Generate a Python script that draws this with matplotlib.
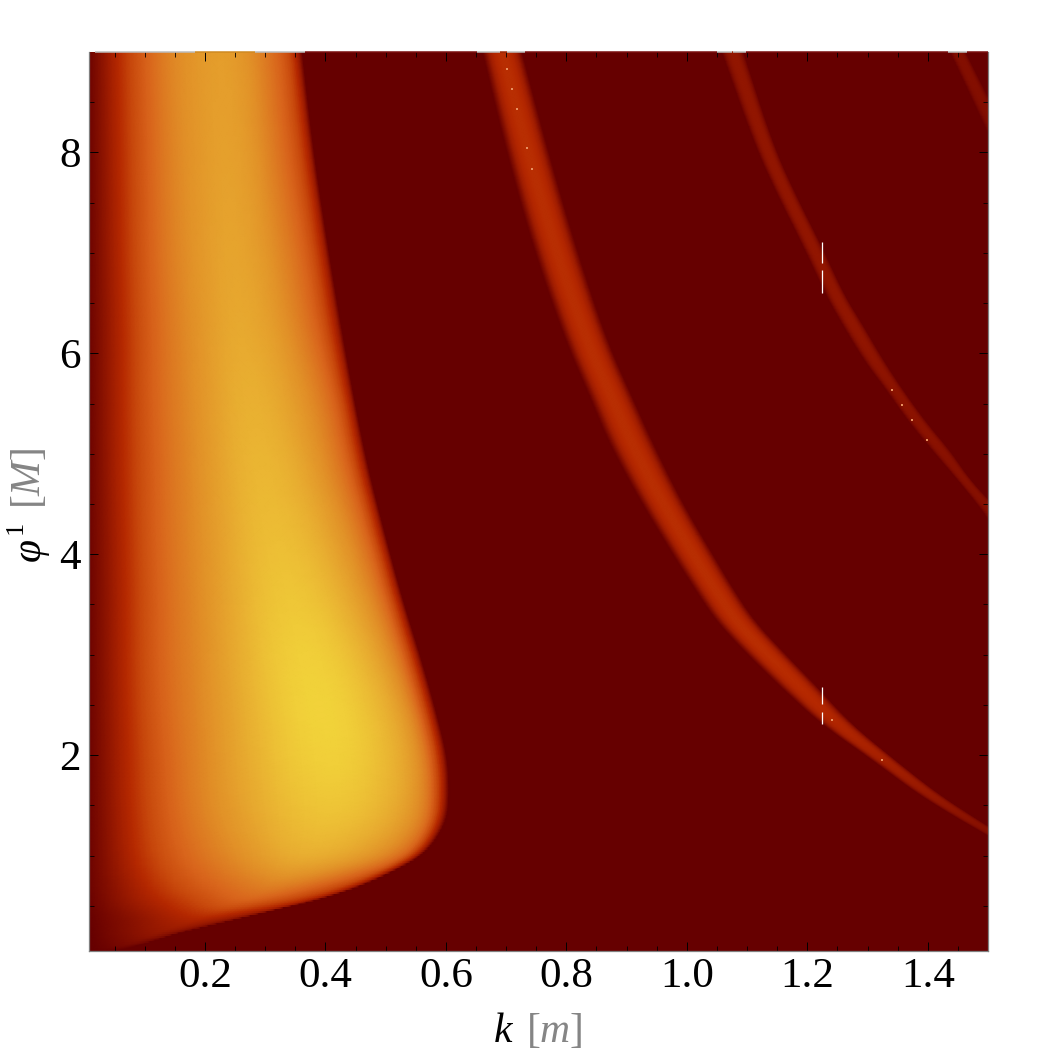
import numpy as np
import matplotlib
matplotlib.use('Agg')
import matplotlib.pyplot as plt
from matplotlib.colors import LinearSegmentedColormap

# axis ranges and ticks
k_range = [0.0075, 1.5]
phi_range = [0.05, 9.0]
k_ticks = [0.2, 0.4, 0.6, 0.8, 1.0, 1.2, 1.4]
k_tick_labels = ['0.2', '0.4', '0.6', '0.8', '1.0', '1.2', '1.4']
phi_ticks = [2, 4, 6, 8]

# colour scale
scale_values = [0.0, 0.12, 0.28, 0.38, 0.5, 0.68, 0.8, 1.0]
scale_colors = ['#660000', '#861000', '#b52800', '#c8480c', '#d9651c', '#e29228', '#e8ac30', '#f2d43a']

# main lobe: per row of phi, k positions and intensity across the lobe
lobe_phi = [0.05, 0.097, 0.23, 0.39, 0.54, 0.69, 0.93, 1.09, 1.36, 1.65, 1.98,
            2.38, 2.92, 3.57, 4.24, 4.9, 5.56, 6.23, 7.02, 8.0, 9.0]
lobe_k = [
    [0.0075, 0.015, 0.02, 0.025, 0.03, 0.04, 0.045, 0.05],
    [0.0075, 0.035, 0.05, 0.06, 0.07, 0.08, 0.084, 0.087],
    [0.0075, 0.05, 0.09, 0.115, 0.13, 0.148, 0.154, 0.158],
    [0.0075, 0.06, 0.12, 0.18, 0.21, 0.25, 0.265, 0.27],
    [0.0075, 0.07, 0.16, 0.24, 0.28, 0.35, 0.372, 0.379],
    [0.0075, 0.078, 0.165, 0.27, 0.33, 0.42, 0.452, 0.462],
    [0.0075, 0.08, 0.16, 0.26, 0.37, 0.50, 0.535, 0.545],
    [0.0075, 0.078, 0.155, 0.25, 0.385, 0.535, 0.568, 0.578],
    [0.0075, 0.075, 0.145, 0.225, 0.40, 0.555, 0.592, 0.604],
    [0.0075, 0.072, 0.14, 0.215, 0.40, 0.555, 0.596, 0.607],
    [0.0075, 0.071, 0.137, 0.213, 0.396, 0.55, 0.593, 0.604],
    [0.0075, 0.069, 0.13, 0.21, 0.39, 0.535, 0.578, 0.588],
    [0.0075, 0.067, 0.125, 0.205, 0.37, 0.51, 0.553, 0.563],
    [0.0075, 0.067, 0.125, 0.20, 0.345, 0.48, 0.52, 0.529],
    [0.0075, 0.065, 0.12, 0.195, 0.32, 0.45, 0.49, 0.499],
    [0.0075, 0.062, 0.12, 0.19, 0.30, 0.42, 0.461, 0.471],
    [0.0075, 0.062, 0.115, 0.185, 0.28, 0.40, 0.44, 0.449],
    [0.0075, 0.062, 0.115, 0.18, 0.27, 0.37, 0.418, 0.429],
    [0.0075, 0.059, 0.11, 0.17, 0.26, 0.355, 0.397, 0.407],
    [0.0075, 0.057, 0.108, 0.165, 0.255, 0.335, 0.372, 0.382],
    [0.0075, 0.054, 0.104, 0.158, 0.25, 0.325, 0.352, 0.363],
]
lobe_v = [
    [0, 0, 0, 0, 0, 0, 0, 0],
    [0, 0.03, 0.05, 0.06, 0.06, 0.04, 0.02, 0],
    [0, 0.08, 0.14, 0.17, 0.17, 0.12, 0.08, 0],
    [0.01, 0.10, 0.20, 0.27, 0.27, 0.20, 0.12, 0],
    [0.02, 0.18, 0.33, 0.48, 0.48, 0.33, 0.20, 0],
    [0.03, 0.22, 0.42, 0.58, 0.62, 0.42, 0.25, 0],
    [0.03, 0.27, 0.48, 0.66, 0.82, 0.60, 0.28, 0],
    [0.03, 0.28, 0.50, 0.68, 0.90, 0.66, 0.28, 0],
    [0.03, 0.28, 0.50, 0.68, 0.97, 0.72, 0.28, 0],
    [0.03, 0.28, 0.50, 0.68, 1.02, 0.76, 0.28, 0],
    [0.03, 0.28, 0.50, 0.68, 1.06, 0.78, 0.28, 0],
    [0.03, 0.28, 0.50, 0.68, 1.08, 0.78, 0.28, 0],
    [0.03, 0.28, 0.50, 0.68, 1.07, 0.74, 0.28, 0],
    [0.03, 0.28, 0.50, 0.68, 1.01, 0.68, 0.28, 0],
    [0.03, 0.28, 0.50, 0.68, 0.95, 0.65, 0.28, 0],
    [0.03, 0.28, 0.50, 0.68, 0.91, 0.62, 0.28, 0],
    [0.03, 0.28, 0.50, 0.68, 0.87, 0.61, 0.28, 0],
    [0.03, 0.28, 0.50, 0.68, 0.83, 0.59, 0.28, 0],
    [0.03, 0.28, 0.50, 0.68, 0.80, 0.56, 0.28, 0],
    [0.03, 0.28, 0.50, 0.68, 0.78, 0.52, 0.28, 0],
    [0.03, 0.28, 0.50, 0.68, 0.76, 0.50, 0.28, 0],
]

# thin bands: phi, left edge, right edge, peak intensity
band1_phi = [1.11, 1.26, 1.39, 1.63, 1.95, 2.32, 2.68, 3.05, 3.35, 3.64, 3.94, 4.54, 5.13, 5.53, 6.13, 7.07, 8.07, 9.0]
band1_left = [1.526, 1.483, 1.445, 1.38, 1.309, 1.221, 1.156, 1.093, 1.047, 1.015, 0.983, 0.922, 0.869, 0.842, 0.798, 0.744, 0.698, 0.661]
band1_right = [1.553, 1.513, 1.478, 1.417, 1.349, 1.274, 1.219, 1.159, 1.113, 1.081, 1.051, 0.992, 0.944, 0.914, 0.869, 0.817, 0.769, 0.728]
band1_peak = [0.10, 0.13, 0.15, 0.19, 0.24, 0.28, 0.30, 0.31, 0.31, 0.31, 0.31, 0.31, 0.31, 0.31, 0.31, 0.31, 0.31, 0.31]

band2_phi = [4.34, 4.44, 4.74, 5.03, 5.33, 5.63, 5.93, 6.33, 6.58, 7.07, 7.57, 8.07, 9.0]
band2_left = [1.5, 1.49, 1.45, 1.408, 1.367, 1.332, 1.294, 1.254, 1.231, 1.193, 1.151, 1.113, 1.058]
band2_right = [1.536, 1.52, 1.473, 1.44, 1.398, 1.362, 1.329, 1.29, 1.264, 1.226, 1.184, 1.146, 1.096]
band2_peak = [0.13, 0.13, 0.13, 0.14, 0.15, 0.15, 0.16, 0.17, 0.17, 0.17, 0.17, 0.17, 0.17]

band3_phi = [8.19, 8.58, 9.0]
band3_left = [1.5, 1.47, 1.437]
band3_right = [1.533, 1.5, 1.465]
band3_peak = [0.11, 0.12, 0.12]

# cross section of a band, fraction of its width and of its peak
band_frac = [0.0, 0.2, 0.5, 0.8, 1.0]
band_shape = [0.0, 0.85, 1.0, 0.85, 0.0]

# white glitches in the plot
glitch_k = [1.225, 1.225, 1.225, 1.225]
glitch_low = [6.90, 6.60, 2.51, 2.31]
glitch_high = [7.11, 6.83, 2.68, 2.43]
speck_k = [0.701, 0.71, 0.718, 0.734, 0.743, 1.241, 1.324, 1.34, 1.357, 1.373, 1.398]
speck_phi = [8.83, 8.63, 8.43, 8.04, 7.84, 2.35, 1.95, 5.64, 5.49, 5.34, 5.14]

# top edge of the frame, where the first row of the plot is missing
top_from = [0.017, 0.183, 0.283, 0.366, 0.651, 0.69, 0.701, 0.731, 1.05, 1.075, 1.076, 1.098, 1.433, 1.465]
top_to = [0.183, 0.283, 0.366, 0.651, 0.69, 0.701, 0.731, 1.05, 1.075, 1.076, 1.098, 1.433, 1.465, 1.5]
top_colors = ['#bdbdbd', '#cf8a22', '#bdbdbd', '#7a1010', '#bdbdbd', '#9c2a08', '#bdbdbd', '#7a1010',
              '#bdbdbd', '#9c2a08', '#bdbdbd', '#7a1010', '#bdbdbd', '#7a1010']

plt.rcParams['font.family'] = ['Liberation Serif', 'DejaVu Serif']
plt.rcParams['mathtext.fontset'] = 'custom'
plt.rcParams['mathtext.rm'] = 'Liberation Serif'
plt.rcParams['mathtext.it'] = 'Liberation Serif:italic'
W, H = 1041, 1053
cmap = LinearSegmentedColormap.from_list('lobe', list(zip(scale_values, scale_colors)))


def round_off(a, axis):
    '''One pass of corner cutting along an axis, the end rows stay where they are'''
    a = np.moveaxis(a, axis, 0)
    out = np.empty((2 * a.shape[0],) + a.shape[1:])
    out[0] = a[0]
    out[-1] = a[-1]
    out[1:-1:2] = 0.75 * a[:-1] + 0.25 * a[1:]
    out[2:-1:2] = 0.25 * a[:-1] + 0.75 * a[1:]
    return np.moveaxis(out, 0, axis)


def draw_mesh(ax, X, Y, C, passes=3):
    '''Gouraud mesh through the read values, with the creases rounded off'''
    for _ in range(passes):
        X, Y, C = [round_off(round_off(a, 0), 1) for a in (X, Y, C)]
    ax.pcolormesh(X, Y, C, shading='gouraud', cmap=cmap, vmin=0, vmax=1)


def draw_band(ax, phi, left, right, peak):
    '''One thin band between its two edges'''
    phi = np.array(phi)
    left = np.array(left)
    right = np.array(right)
    peak = np.array(peak)
    X = np.column_stack([left + f * (right - left) for f in band_frac])
    Y = np.column_stack([phi for _ in band_frac])
    C = np.column_stack([s * peak for s in band_shape])
    draw_mesh(ax, X, Y, C)


fig = plt.figure(figsize=(W / 100, H / 100), dpi=100)
ax = fig.add_axes([89 / W, 1 - 951 / H, 899 / W, 899 / H])
ax.set_facecolor('#660000')

Y_lobe = np.column_stack([lobe_phi] * len(lobe_k[0]))
draw_mesh(ax, np.array(lobe_k), Y_lobe, np.array(lobe_v, dtype=float))
draw_band(ax, band1_phi, band1_left, band1_right, band1_peak)
draw_band(ax, band2_phi, band2_left, band2_right, band2_peak)
draw_band(ax, band3_phi, band3_left, band3_right, band3_peak)

ax.vlines(glitch_k, glitch_low, glitch_high, color='white', lw=0.9, zorder=3)
ax.scatter(speck_k, speck_phi, s=1.0, color='#e89060', linewidths=0, marker='s', zorder=3)
ax.set_xlim(k_range)
ax.set_ylim(phi_range)

# frame and ticks
for side in ax.spines.values():
    side.set_color('#808080')
    side.set_linewidth(0.9)
ax.spines['top'].set_visible(False)
ax.hlines([phi_range[1]] * len(top_from), top_from, top_to, colors=top_colors, lw=1.1, clip_on=False, zorder=4)

ax.set_xticks(k_ticks, k_tick_labels)
ax.set_yticks(phi_ticks)
ax.set_xticks(np.arange(0.05, 1.5, 0.05), minor=True)
ax.set_yticks(np.arange(0.5, 9.0, 0.5), minor=True)
ax.tick_params(which='major', direction='in', top=True, right=True, length=6.5, width=0.7,
               color='black', labelsize=31)
ax.tick_params(which='minor', direction='in', top=True, right=True, length=3.6, width=0.6, color='black')
ax.tick_params(axis='x', which='major', pad=5)
ax.tick_params(axis='y', which='major', pad=6)

# axis titles, in pieces because of the two colours
gray = '#858585'
fig.text(494 / W, 1 - 1042 / H, 'k', style='italic', fontsize=30, color='black')
fig.text(526 / W, 1 - 1042 / H, r'$[\mathit{m}]$', fontsize=30, color=gray)

fig.text(40 / W, 1 - 561 / H, '\u03c6', style='italic', fontsize=30, rotation=90,
         rotation_mode='anchor', ha='left', va='baseline')
fig.text(22 / W, 1 - 534 / H, '1', fontsize=19, rotation=90,
         rotation_mode='anchor', ha='left', va='baseline')
fig.text(40 / W, 1 - 509 / H, r'$[\mathit{M}]$', fontsize=30, color=gray, rotation=90,
         rotation_mode='anchor', ha='left', va='baseline')

fig.savefig('out.png', dpi=100)
